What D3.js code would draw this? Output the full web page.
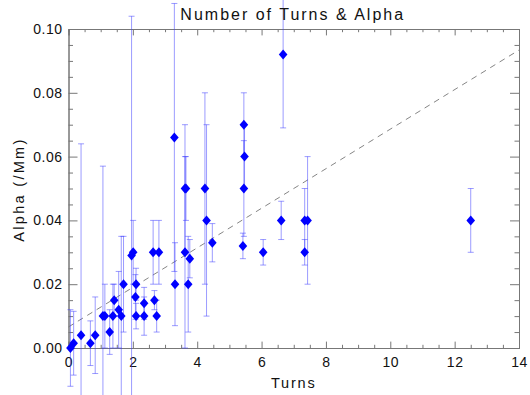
<!DOCTYPE html>
<html>
<head>
<meta charset="utf-8">
<script src="https://cdn.jsdelivr.net/npm/d3@7"></script>
<style>
  body { margin: 0; background: #fff; }
  svg text { font-family: "Liberation Sans", Arial, sans-serif; fill: #111; }
</style>
</head>
<body>
<div id="chart"></div>
<script>
(function () {
    // data
    const turns = [0.06, 0.16, 0.39, 0.68, 0.83, 1.07, 1.13, 1.28, 1.38, 1.42, 1.56, 1.64, 1.71,
        1.96, 2.01, 2.08, 2.1, 2.1, 2.35, 2.35, 2.67, 2.74, 2.63, 2.81,
        3.29, 3.31, 3.62, 3.65, 3.62, 3.72, 3.77, 4.24, 4.29, 4.47,
        5.45, 5.47, 5.45, 5.42, 6.05, 6.67, 6.61, 7.34, 7.43, 7.34, 12.5];
    const alpha = [0.0, 0.0015, 0.004, 0.0015, 0.004, 0.01, 0.01, 0.005, 0.01, 0.015, 0.012, 0.01, 0.02,
        0.029, 0.03, 0.016, 0.02, 0.01, 0.014, 0.01, 0.015, 0.01, 0.03, 0.03,
        0.066, 0.02, 0.05, 0.05, 0.03, 0.02, 0.028, 0.05, 0.04, 0.033,
        0.07, 0.06, 0.05, 0.032, 0.03, 0.092, 0.04, 0.04, 0.04, 0.03, 0.04];
    const alphaErr = [0.012, 0.01, 0.06, 0.007, 0.012, 0.047, 0.01, 0.007, 0.01, 0.005, 0.012, 0.025, 0.015,
        0.075, 0.01, 0.007, 0.005, 0.004, 0.005, 0.006, 0.003, 0.005, 0.01, 0.01,
        0.042, 0.013, 0.02, 0.01, 0.03, 0.015, 0.006, 0.03, 0.03, 0.006,
        0.01, 0.01, 0.015, 0.004, 0.004, 0.023, 0.006, 0.01, 0.02, 0.004, 0.01];
    const fitX = [0, 14];
    const fitY = [0.0066, 0.0934];
    const xTicks = [0, 2, 4, 6, 8, 10, 12, 14];
    const yTicks = [0, 0.02, 0.04, 0.06, 0.08, 0.10];

    const points = turns.map((t, i) => ({ x: t, y: alpha[i], e: alphaErr[i] }));

    const W = 530, H = 395;
    const margin = { top: 29, right: 11, bottom: 47, left: 68.5 };
    const width = W - margin.left - margin.right;
    const height = H - margin.top - margin.bottom;

    const svg = d3.select("#chart").append("svg")
        .attr("width", W).attr("height", H);

    const g = svg.append("g")
        .attr("transform", `translate(${margin.left},${margin.top})`);

    const x = d3.scaleLinear().domain([0, 14]).range([0, width]);
    const y = d3.scaleLinear().domain([0, 0.1]).range([height, 0]);

    const xMinor = d3.range(0, 14.01, 0.5).filter(v => Math.abs(v % 2) > 1e-6);
    const yMinor = d3.range(0, 0.1001, 0.005).filter(v => Math.abs(Math.round(v / 0.005) % 4) !== 0);

    const axisColor = "#777";

    function addAxis(axis, transform, labels) {
        const a = g.append("g").attr("transform", transform).call(axis);
        a.select(".domain").attr("stroke", axisColor);
        a.selectAll(".tick line").attr("stroke", axisColor);
        a.selectAll("text")
            .style("font-size", "14px")
            .style("letter-spacing", "0.5px")
            .attr("fill", "#111");
        if (!labels) a.selectAll("text").remove();
        return a;
    }

    // minor ticks, all four sides
    addAxis(d3.axisBottom(x).tickValues(xMinor).tickSize(-3.2).tickFormat(""), `translate(0,${height})`, false);
    addAxis(d3.axisTop(x).tickValues(xMinor).tickSize(-3.2).tickFormat(""), "translate(0,0)", false);
    addAxis(d3.axisLeft(y).tickValues(yMinor).tickSize(-4.5).tickFormat(""), "translate(0,0)", false);
    addAxis(d3.axisRight(y).tickValues(yMinor).tickSize(-4.5).tickFormat(""), `translate(${width},0)`, false);

    // major ticks
    addAxis(d3.axisBottom(x).tickValues(xTicks).tickSize(-6.4).tickPadding(9).tickFormat(d3.format("d")), `translate(0,${height})`, true);
    addAxis(d3.axisTop(x).tickValues(xTicks).tickSize(-6.4).tickFormat(""), "translate(0,0)", false);
    addAxis(d3.axisLeft(y).tickValues(yTicks).tickSize(-9).tickPadding(6).tickFormat(d3.format(".2f")), "translate(0,0)", true);
    addAxis(d3.axisRight(y).tickValues(yTicks).tickSize(-9).tickFormat(""), `translate(${width},0)`, false);

    // fitted dashed line
    g.append("line")
        .attr("x1", x(fitX[0])).attr("y1", y(fitY[0]))
        .attr("x2", x(fitX[1])).attr("y2", y(fitY[1]))
        .attr("stroke", "#777")
        .attr("stroke-width", 0.9)
        .attr("stroke-dasharray", "6,5");

    // error bars (not clipped, as in the original)
    const errColor = "#3a3aff";
    const eb = g.append("g").attr("class", "errbars");
    eb.selectAll(".ev").data(points).enter().append("line")
        .attr("x1", d => x(d.x)).attr("x2", d => x(d.x))
        .attr("y1", d => y(d.y - d.e)).attr("y2", d => y(d.y + d.e))
        .attr("stroke", errColor).attr("stroke-opacity", 0.5).attr("stroke-width", 1);
    [-1, 1].forEach(s => {
        eb.selectAll(".cap" + s).data(points).enter().append("line")
            .attr("x1", d => x(d.x) - 3).attr("x2", d => x(d.x) + 3)
            .attr("y1", d => y(d.y + s * d.e)).attr("y2", d => y(d.y + s * d.e))
            .attr("stroke", errColor).attr("stroke-opacity", 0.5).attr("stroke-width", 1);
    });

    // diamonds
    g.append("g").selectAll("path").data(points).enter().append("path")
        .attr("transform", d => `translate(${x(d.x)},${y(d.y)})`)
        .attr("d", "M0,-5L4.3,0L0,5L-4.3,0Z")
        .attr("fill", "#0000ff");

    // titles
    svg.append("text")
        .attr("x", margin.left + width / 2 - 1).attr("y", 20)
        .attr("text-anchor", "middle")
        .style("font-size", "16px").style("letter-spacing", "2px")
        .text("Number of Turns & Alpha");

    svg.append("text")
        .attr("x", margin.left + width / 2).attr("y", 388)
        .attr("text-anchor", "middle")
        .style("font-size", "14.5px").style("letter-spacing", "1.8px")
        .text("Turns");

    svg.append("text")
        .attr("transform", `translate(24,${margin.top + height / 2 + 1}) rotate(-90)`)
        .attr("text-anchor", "middle")
        .style("font-size", "14.5px").style("letter-spacing", "2.3px")
        .text("Alpha (/Mm)");
})();
</script>
</body>
</html>
